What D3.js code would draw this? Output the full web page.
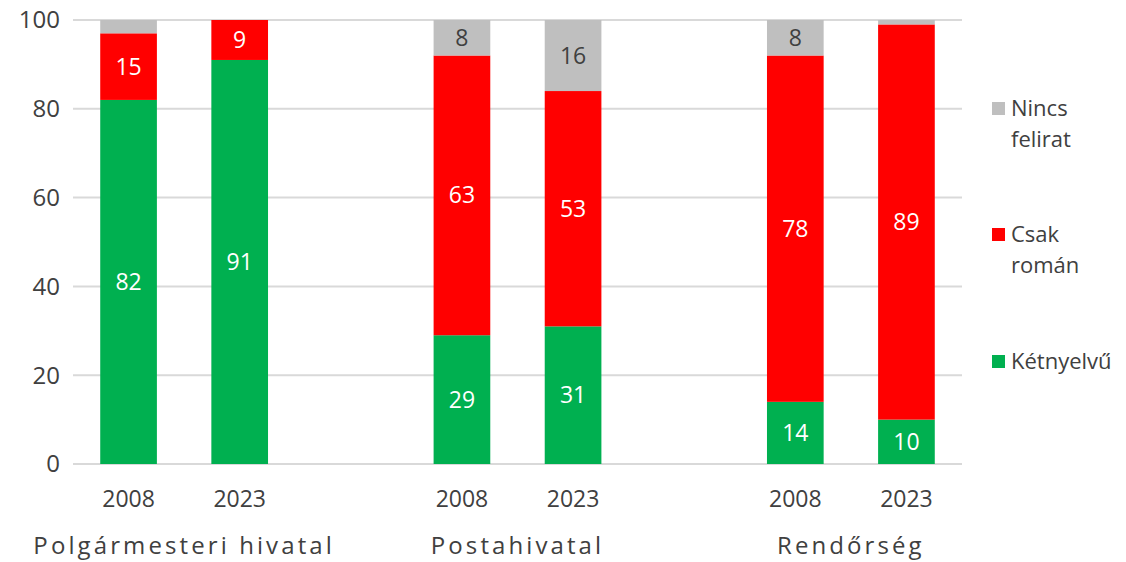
<!DOCTYPE html>
<html>
<head>
<meta charset="utf-8">
<script src="https://cdn.jsdelivr.net/npm/d3@7"></script>
<style>
  body { margin: 0; background: #fff; }
  text { font-family: "Open Sans", "Noto Sans", sans-serif; }
</style>
</head>
<body>
<svg id="chart"></svg>
<script>
// categories (blank slots separate the groups, like the source spreadsheet)
const slots = ["P2008", "P2023", "gap1", "S2008", "S2023", "gap2", "R2008", "R2023"];
const years = ["2008", "2023", "", "2008", "2023", "", "2008", "2023"];
const groups = ["Polgármesteri hivatal", "Postahivatal", "Rendőrség"];
const groupSlots = [["P2008", "P2023"], ["S2008", "S2023"], ["R2008", "R2023"]];

// series values, bottom to top
const bars = ["P2008", "P2023", "S2008", "S2023", "R2008", "R2023"];
const ketnyelvu = [82, 91, 29, 31, 14, 10];
const csakRoman = [15, 9, 63, 53, 78, 89];
const nincsFelirat = [3, 0, 8, 16, 8, 1];

const seriesNames = ["Kétnyelvű", "Csak román", "Nincs felirat"];
const yTicks = [0, 20, 40, 60, 80, 100];

const width = 1126, height = 562;
const margin = {top: 20, right: 164, bottom: 98, left: 73};

const svg = d3.select("#chart")
    .attr("width", width)
    .attr("height", height);

const x = d3.scaleBand()
    .domain(slots)
    .range([margin.left, width - margin.right])
    .paddingInner(0.49)
    .paddingOuter(0.245);

const y = d3.scaleLinear()
    .domain([0, 100])
    .range([height - margin.bottom, margin.top]);

const color = d3.scaleOrdinal()
    .domain(seriesNames)
    .range(["#00B050", "#FF0000", "#BFBFBF"]);

// table for the stack
const table = bars.map((b, i) => ({
    key: b,
    "Kétnyelvű": ketnyelvu[i],
    "Csak román": csakRoman[i],
    "Nincs felirat": nincsFelirat[i]
}));
const stacked = d3.stack().keys(seriesNames)(table);

// gridlines
svg.append("g")
    .selectAll("line")
    .data(yTicks)
    .join("line")
    .attr("x1", margin.left)
    .attr("x2", width - margin.right)
    .attr("y1", d => y(d))
    .attr("y2", d => y(d))
    .attr("stroke", "#D9D9D9")
    .attr("stroke-width", 2);

// y tick labels
svg.append("g")
    .selectAll("text")
    .data(yTicks)
    .join("text")
    .attr("x", 60)
    .attr("y", d => y(d))
    .attr("dy", "0.35em")
    .attr("text-anchor", "end")
    .attr("font-size", 24)
    .attr("fill", "#404040")
    .text(d => d);

// bars
const layer = svg.append("g")
    .selectAll("g")
    .data(stacked)
    .join("g")
    .attr("fill", d => color(d.key));

layer.selectAll("rect")
    .data(d => d)
    .join("rect")
    .attr("x", d => x(d.data.key))
    .attr("y", d => y(d[1]))
    .attr("width", x.bandwidth())
    .attr("height", d => y(d[0]) - y(d[1]));

// value labels (skip the tiny slivers)
const labels = svg.append("g");
stacked.forEach(s => {
    labels.selectAll(null)
        .data(s.filter(d => d[1] - d[0] >= 5))
        .join("text")
        .attr("x", d => x(d.data.key) + x.bandwidth() / 2)
        .attr("y", d => y((d[0] + d[1]) / 2))
        .attr("dy", "0.35em")
        .attr("text-anchor", "middle")
        .attr("font-size", 23)
        .attr("fill", s.key === "Nincs felirat" ? "#404040" : "#fff")
        .text(d => d[1] - d[0]);
});

// year labels
svg.append("g")
    .selectAll("text")
    .data(slots.filter((s, i) => years[i] !== ""))
    .join("text")
    .attr("x", d => x(d) + x.bandwidth() / 2)
    .attr("y", 507)
    .attr("text-anchor", "middle")
    .attr("font-size", 23)
    .attr("fill", "#404040")
    .text(d => years[slots.indexOf(d)]);

// group labels
svg.append("g")
    .selectAll("text")
    .data(groups)
    .join("text")
    .attr("x", (d, i) => (x(groupSlots[i][0]) + x(groupSlots[i][1]) + x.bandwidth()) / 2)
    .attr("y", 554)
    .attr("text-anchor", "middle")
    .attr("font-size", 24)
    .attr("letter-spacing", 3.1)
    .attr("fill", "#404040")
    .text(d => d);

// legend
const legendItems = [
    {name: "Nincs felirat", lines: ["Nincs", "felirat"], y: 108},
    {name: "Csak román", lines: ["Csak", "román"], y: 234},
    {name: "Kétnyelvű", lines: ["Kétnyelvű"], y: 361}
];
const legend = svg.append("g");
legend.selectAll("rect")
    .data(legendItems)
    .join("rect")
    .attr("x", 992)
    .attr("y", d => d.y - 6)
    .attr("width", 13)
    .attr("height", 13)
    .attr("fill", d => color(d.name));

legend.selectAll("text")
    .data(legendItems)
    .join("text")
    .attr("x", 1011)
    .attr("y", d => d.y)
    .attr("font-size", 22)
    .attr("fill", "#404040")
    .each(function(d) {
        d3.select(this).selectAll("tspan")
            .data(d.lines)
            .join("tspan")
            .attr("x", 1011)
            .attr("dy", (t, i) => i === 0 ? "0.35em" : "1.4em")
            .text(t => t);
    });
</script>
</body>
</html>
